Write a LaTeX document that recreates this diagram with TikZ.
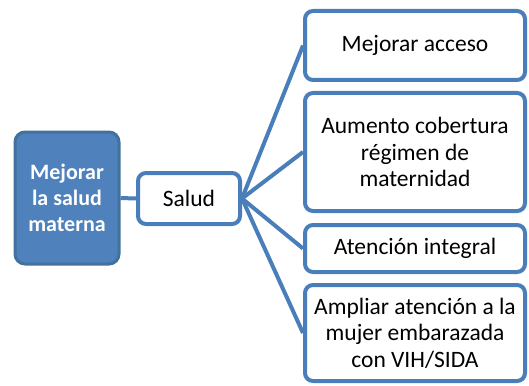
\documentclass[tikz,border=0pt]{standalone}
\usepackage{fontspec}
\setmainfont{Carlito}
\definecolor{fillblue}{HTML}{4F81BD}
\definecolor{edgeblue}{HTML}{4A7EBB}
\definecolor{darkedge}{HTML}{41719C}
\begin{document}
\begin{tikzpicture}[x=1pt,y=-1pt,
  whitebox/.style={draw=edgeblue,line width=4pt,fill=white,rounded corners=8pt,
    inner sep=0pt,align=center,font=\fontsize{23.5}{26.5}\selectfont,text=black},
  bluebox/.style={draw=darkedge,line width=3pt,fill=fillblue,rounded corners=10pt,
    inner sep=0pt,align=center,font=\fontsize{22}{26}\selectfont\bfseries,text=white},
  conn/.style={draw=edgeblue,line width=4pt}]
\useasboundingbox (0,0) rectangle (529,385);
\node[bluebox,minimum width=104pt,minimum height=132pt] (goal) at (67,198) {Mejorar\\la salud\\materna};
\node[whitebox,minimum width=102pt,minimum height=51pt] (salud) at (189,198.5) {Salud};
\node[whitebox,minimum width=220pt,minimum height=69pt] (b1) at (415,45.5) {Mejorar acceso};
\node[whitebox,minimum width=220pt,minimum height=118pt] (b2) at (415,152) {Aumento cobertura\\régimen de\\maternidad};
\node[whitebox,minimum width=220pt,minimum height=47pt] (b3) at (415,248.5) {Atención integral};
\node[whitebox,minimum width=220pt,minimum height=96pt] (b4) at (415,333) {Ampliar atención a la\\mujer embarazada\\con VIH/SIDA};
\draw[conn] (goal.east) -- (salud.west);
\draw[conn] (salud.east) -- (b1.west);
\draw[conn] (salud.east) -- (b2.west);
\draw[conn] (salud.east) -- (b3.west);
\draw[conn] (salud.east) -- (b4.west);
\end{tikzpicture}
\end{document}
